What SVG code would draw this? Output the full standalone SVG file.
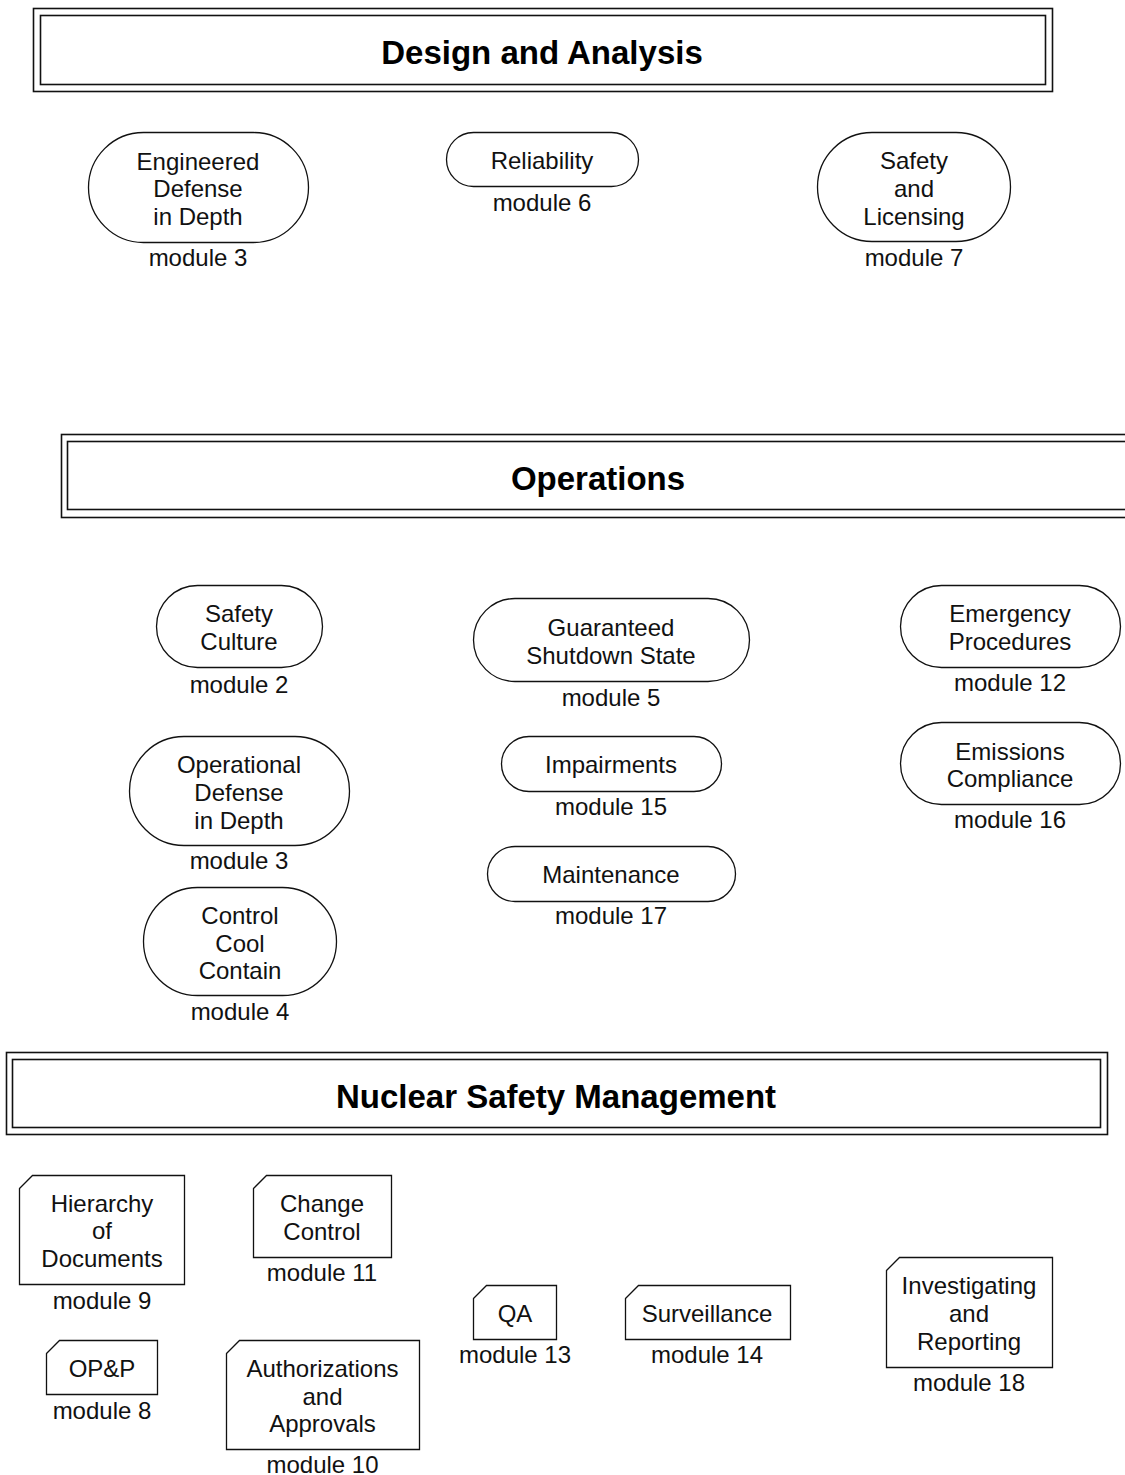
<svg xmlns="http://www.w3.org/2000/svg" width="1125" height="1475" viewBox="0 0 1125 1475">
  <style>
    .frame { fill: none; stroke: #111; stroke-width: 1.6; }
    .shape { fill: #fff; stroke: #111; stroke-width: 1.3; }
    .title { font-family: "Liberation Sans", Arial, sans-serif; font-size: 33px; font-weight: bold; fill: #000; text-anchor: middle; }
    .lbl { font-family: "Liberation Sans", Arial, sans-serif; font-size: 24px; fill: #111; text-anchor: middle; }
  </style>
  <rect width="1125" height="1475" fill="#fff"/>

  <!-- section headers: double-framed banners -->
  <g id="header-design">
    <rect class="frame" x="33.5" y="8.5" width="1019" height="83"/>
    <rect class="frame" x="40.5" y="15.5" width="1005" height="69"/>
    <text class="title" x="542" y="64">Design and Analysis</text>
  </g>
  <g id="header-operations">
    <rect class="frame" x="61.5" y="434.5" width="1080" height="83"/>
    <rect class="frame" x="67.5" y="441.5" width="1068" height="68"/>
    <text class="title" x="598" y="490">Operations</text>
  </g>
  <g id="header-nsm">
    <rect class="frame" x="6.5" y="1052.5" width="1101" height="82"/>
    <rect class="frame" x="12.5" y="1059.5" width="1088" height="68"/>
    <text class="title" x="556" y="1108">Nuclear Safety Management</text>
  </g>

  <!-- Design and Analysis modules -->
  <g id="node-engineered-did">
    <rect class="shape" x="88.5" y="132.5" width="220" height="110" rx="55"/>
    <text class="lbl" x="198" y="169.5">Engineered</text>
    <text class="lbl" x="198" y="197">Defense</text>
    <text class="lbl" x="198" y="224.5">in Depth</text>
    <text class="lbl" x="198" y="265.5">module 3</text>
  </g>
  <g id="node-reliability">
    <rect class="shape" x="446.5" y="132.5" width="192" height="54" rx="27"/>
    <text class="lbl" x="542" y="168.5">Reliability</text>
    <text class="lbl" x="542" y="210.5">module 6</text>
  </g>
  <g id="node-safety-licensing">
    <rect class="shape" x="817.5" y="132.5" width="193" height="109" rx="54.5"/>
    <text class="lbl" x="914" y="169">Safety</text>
    <text class="lbl" x="914" y="197">and</text>
    <text class="lbl" x="914" y="224.5">Licensing</text>
    <text class="lbl" x="914" y="265.5">module 7</text>
  </g>

  <!-- Operations modules -->
  <g id="node-safety-culture">
    <rect class="shape" x="156.5" y="585.5" width="166" height="82" rx="41"/>
    <text class="lbl" x="239" y="621.5">Safety</text>
    <text class="lbl" x="239" y="649.5">Culture</text>
    <text class="lbl" x="239" y="692.5">module 2</text>
  </g>
  <g id="node-guaranteed-shutdown">
    <rect class="shape" x="473.5" y="598.5" width="276" height="83" rx="41.5"/>
    <text class="lbl" x="611" y="635.5">Guaranteed</text>
    <text class="lbl" x="611" y="663.5">Shutdown State</text>
    <text class="lbl" x="611" y="705.5">module 5</text>
  </g>
  <g id="node-emergency-procedures">
    <rect class="shape" x="900.5" y="585.5" width="220" height="82" rx="41"/>
    <text class="lbl" x="1010" y="621.5">Emergency</text>
    <text class="lbl" x="1010" y="649.5">Procedures</text>
    <text class="lbl" x="1010" y="690.5">module 12</text>
  </g>
  <g id="node-operational-did">
    <rect class="shape" x="129.5" y="736.5" width="220" height="109" rx="54.5"/>
    <text class="lbl" x="239" y="772.5">Operational</text>
    <text class="lbl" x="239" y="800.5">Defense</text>
    <text class="lbl" x="239" y="828.5">in Depth</text>
    <text class="lbl" x="239" y="868.5">module 3</text>
  </g>
  <g id="node-impairments">
    <rect class="shape" x="501.5" y="736.5" width="220" height="55" rx="27.5"/>
    <text class="lbl" x="611" y="772.5">Impairments</text>
    <text class="lbl" x="611" y="814.5">module 15</text>
  </g>
  <g id="node-emissions-compliance">
    <rect class="shape" x="900.5" y="722.5" width="220" height="82" rx="41"/>
    <text class="lbl" x="1010" y="759.5">Emissions</text>
    <text class="lbl" x="1010" y="786.5">Compliance</text>
    <text class="lbl" x="1010" y="827.5">module 16</text>
  </g>
  <g id="node-maintenance">
    <rect class="shape" x="487.5" y="846.5" width="248" height="55" rx="27.5"/>
    <text class="lbl" x="611" y="882.5">Maintenance</text>
    <text class="lbl" x="611" y="923.5">module 17</text>
  </g>
  <g id="node-control-cool-contain">
    <rect class="shape" x="143.5" y="887.5" width="193" height="108" rx="54"/>
    <text class="lbl" x="240" y="923.5">Control</text>
    <text class="lbl" x="240" y="951.5">Cool</text>
    <text class="lbl" x="240" y="978.5">Contain</text>
    <text class="lbl" x="240" y="1019.5">module 4</text>
  </g>

  <!-- Nuclear Safety Management modules: cards with clipped corner -->
  <g id="node-hierarchy">
    <path class="shape" d="M19.5 1188.5 L32.5 1175.5 H184.5 V1284.5 H19.5 Z"/>
    <text class="lbl" x="102" y="1211.5">Hierarchy</text>
    <text class="lbl" x="102" y="1238.5">of</text>
    <text class="lbl" x="102" y="1266.5">Documents</text>
    <text class="lbl" x="102" y="1308.5">module 9</text>
  </g>
  <g id="node-change-control">
    <path class="shape" d="M253.5 1188.5 L266.5 1175.5 H391.5 V1257.5 H253.5 Z"/>
    <text class="lbl" x="322" y="1211.5">Change</text>
    <text class="lbl" x="322" y="1239.5">Control</text>
    <text class="lbl" x="322" y="1280.5">module 11</text>
  </g>
  <g id="node-qa">
    <path class="shape" d="M473.5 1298.5 L486.5 1285.5 H556.5 V1339.5 H473.5 Z"/>
    <text class="lbl" x="515" y="1321.5">QA</text>
    <text class="lbl" x="515" y="1362.5">module 13</text>
  </g>
  <g id="node-surveillance">
    <path class="shape" d="M625.5 1298.5 L638.5 1285.5 H790.5 V1339.5 H625.5 Z"/>
    <text class="lbl" x="707" y="1321.5">Surveillance</text>
    <text class="lbl" x="707" y="1362.5">module 14</text>
  </g>
  <g id="node-investigating">
    <path class="shape" d="M886.5 1270.5 L899.5 1257.5 H1052.5 V1367.5 H886.5 Z"/>
    <text class="lbl" x="969" y="1293.5">Investigating</text>
    <text class="lbl" x="969" y="1321.5">and</text>
    <text class="lbl" x="969" y="1349.5">Reporting</text>
    <text class="lbl" x="969" y="1390.5">module 18</text>
  </g>
  <g id="node-opp">
    <path class="shape" d="M46.5 1353.5 L59.5 1340.5 H157.5 V1394.5 H46.5 Z"/>
    <text class="lbl" x="102" y="1376.5">OP&amp;P</text>
    <text class="lbl" x="102" y="1418.5">module 8</text>
  </g>
  <g id="node-authorizations">
    <path class="shape" d="M226.5 1353.5 L239.5 1340.5 H419.5 V1449.5 H226.5 Z"/>
    <text class="lbl" x="322.5" y="1376.5">Authorizations</text>
    <text class="lbl" x="322.5" y="1404.5">and</text>
    <text class="lbl" x="322.5" y="1431.5">Approvals</text>
    <text class="lbl" x="322.5" y="1472.5">module 10</text>
  </g>

  <!-- no connectors in this chart -->
  <g id="connectors"/>
</svg>
